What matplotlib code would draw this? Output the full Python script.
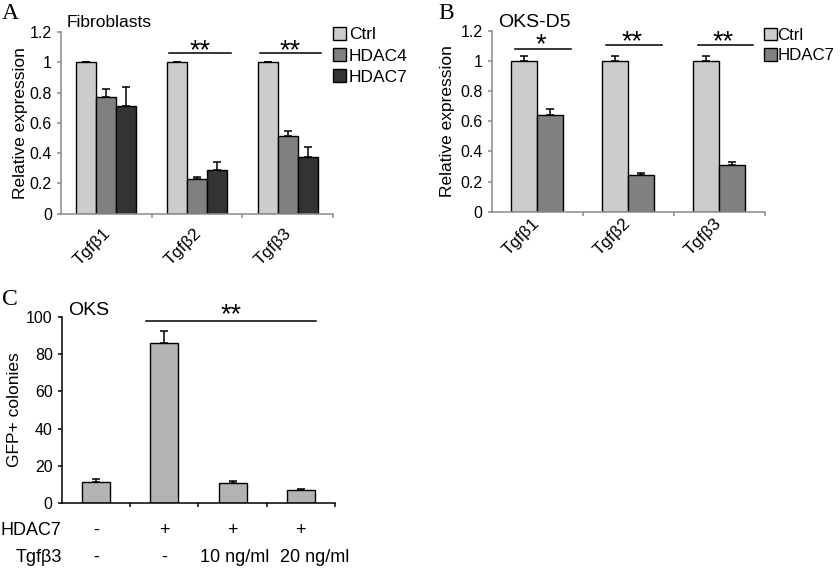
import matplotlib
matplotlib.use('Agg')
import matplotlib.pyplot as plt
import numpy as np
from matplotlib import transforms
from matplotlib.ticker import FuncFormatter
from matplotlib.textpath import TextPath
from matplotlib.font_manager import FontProperties

plt.rcParams['font.family'] = ['Liberation Sans', 'DejaVu Sans']

# ---------------- data ----------------
genes = ['Tgfβ1', 'Tgfβ2', 'Tgfβ3']

a_series = ['Ctrl', 'HDAC4', 'HDAC7']
a_ctrl = [1.0, 1.0, 1.0]
a_ctrl_err = [0.003, 0.003, 0.003]
a_hdac4 = [0.773, 0.227, 0.513]
a_hdac4_err = [0.05, 0.015, 0.035]
a_hdac7 = [0.711, 0.289, 0.375]
a_hdac7_err = [0.124, 0.05, 0.068]
a_sig = ['', '**', '**']

b_series = ['Ctrl', 'HDAC7']
b_ctrl = [1.0, 1.0, 1.0]
b_ctrl_err = [0.037, 0.035, 0.037]
b_hdac7 = [0.642, 0.244, 0.31]
b_hdac7_err = [0.04, 0.012, 0.02]
b_sig = ['*', '**', '**']

c_values = [11.6, 85.7, 10.7, 7.0]
c_err = [1.4, 6.8, 1.2, 0.9]
c_hdac7 = ['-', '+', '+', '+']
c_tgfb3 = ['-', '-', '10 ng/ml', '20 ng/ml']
c_sig = '**'

W, H = 840, 572
DPI = 100
fig = plt.figure(figsize=(W / DPI, H / DPI), dpi=DPI)

# asterisk glyph geometry (em units) so stars can be centred on a point
_fp = FontProperties(family='Liberation Sans')
_ext = TextPath((0, 0), '*', size=1, prop=_fp).get_extents()
STAR_CENTER_EM = (_ext.y0 + _ext.y1) / 2
STAR_GLYPH_PX = 9.5
STAR_FS = STAR_GLYPH_PX / _ext.height * 72 / DPI


def star_text(ax, x, yc, s):
    off = transforms.ScaledTranslation(0, -STAR_CENTER_EM * STAR_FS / 72,
                                       fig.dpi_scale_trans)
    ax.text(x, yc, s, transform=ax.transData + off, ha='center', va='baseline',
            fontsize=STAR_FS)


def px_axes(x0, y0, x1, y1):
    return fig.add_axes([x0 / W, 1 - y1 / H, (x1 - x0) / W, (y1 - y0) / H])


def fig_text(x, y, s, **kw):
    fig.text(x / W, 1 - y / H, s, **kw)


def style(ax, color, lw):
    for s in ['top', 'right']:
        ax.spines[s].set_visible(False)
    for s in ['left', 'bottom']:
        ax.spines[s].set_color(color)
        ax.spines[s].set_linewidth(lw)
    ax.tick_params(axis='y', direction='out', length=3, width=lw, color=color,
                   labelsize=11.5, pad=3.5, labelcolor='black')
    ax.tick_params(axis='x', which='major', direction='out', length=3, width=lw,
                   color=color, labelbottom=False)
    ax.yaxis.set_major_formatter(FuncFormatter(lambda v, p: f'{v:g}'))


def rotated_labels(ax, labels, pad, dx_px):
    n = len(labels)
    ax.set_xticks(np.arange(n) + 0.5, minor=True)
    ax.set_xticklabels(labels, minor=True, rotation=45, ha='right', va='top',
                       fontsize=12.5)
    ax.tick_params(axis='x', which='minor', length=0, pad=pad)
    off = transforms.ScaledTranslation(dx_px / DPI, 0, fig.dpi_scale_trans)
    for lab in ax.get_xticklabels(minor=True):
        lab.set_transform(lab.get_transform() + off)


grey_sp = '#8a8a8a'

# ---------------- Panel A ----------------
axA = px_axes(61, 32, 333, 213.7)
style(axA, grey_sp, 1.1)
xA = np.arange(len(genes)) + 0.5
wA = 0.22
colsA = ['#cccccc', '#808080', '#333333']
handlesA = []
for k, (vals, errs) in enumerate([(a_ctrl, a_ctrl_err), (a_hdac4, a_hdac4_err),
                                  (a_hdac7, a_hdac7_err)]):
    xs = xA + (k - 1) * wA
    b = axA.bar(xs, vals, wA, color=colsA[k], edgecolor='black', linewidth=1.0,
                label=a_series[k], zorder=2)
    axA.errorbar(xs, vals, yerr=[np.zeros(len(vals)), errs], fmt='none',
                 ecolor='black', elinewidth=1.1, capsize=3, capthick=1.1, zorder=3)
    handlesA.append(b)
axA.set_xlim(0, 3)
axA.set_ylim(0, 1.2)
axA.set_yticks(np.arange(0, 1.21, 0.2))
axA.set_xticks([1, 2, 3])
rotated_labels(axA, genes, 8.5, 7)
axA.set_ylabel('Relative expression', fontsize=12.5)
axA.yaxis.set_label_coords(-0.121, 0.5)
for i, s in enumerate(a_sig):
    if s:
        axA.plot([i + 0.19, i + 0.87], [1.06, 1.06], color='black', lw=1.1,
                 clip_on=False)
        star_text(axA, i + 0.53, 1.118, s)
axA.legend(handles=handlesA, loc='upper left', bbox_to_anchor=(333 / W, 1 - 27 / H),
           bbox_transform=fig.transFigure, frameon=False, fontsize=12.5,
           handlelength=0.75, handleheight=0.75, handletextpad=0.15,
           labelspacing=0.33, borderpad=0, borderaxespad=0)

fig_text(2, 19, 'A', fontsize=17, family='Liberation Serif', va='baseline')
fig_text(67, 27, 'Fibroblasts', fontsize=12.5, va='baseline')

# ---------------- Panel B ----------------
axB = px_axes(491.7, 31, 765, 211.7)
style(axB, grey_sp, 1.1)
xB = np.arange(len(genes)) + 0.5
wB = 0.285
colsB = ['#cccccc', '#808080']
handlesB = []
for k, (vals, errs) in enumerate([(b_ctrl, b_ctrl_err), (b_hdac7, b_hdac7_err)]):
    xs = xB + (k - 0.5) * wB
    b = axB.bar(xs, vals, wB, color=colsB[k], edgecolor='black', linewidth=1.0,
                label=b_series[k], zorder=2)
    axB.errorbar(xs, vals, yerr=[np.zeros(len(vals)), errs], fmt='none',
                 ecolor='black', elinewidth=1.1, capsize=3, capthick=1.1, zorder=3)
    handlesB.append(b)
axB.set_xlim(0, 3)
axB.set_ylim(0, 1.2)
axB.set_yticks(np.arange(0, 1.21, 0.2))
axB.set_xticks([1, 2, 3])
rotated_labels(axB, genes, 3, 5)
axB.set_ylabel('Relative expression', fontsize=12.5)
axB.yaxis.set_label_coords(-0.134, 0.5)
for i, s in enumerate(b_sig):
    ly = 1.078 if len(s) == 1 else 1.107
    sy = 1.153 if len(s) == 1 else 1.173
    axB.plot([i + 0.26, i + 0.87], [ly, ly], color='black', lw=1.1, clip_on=False)
    star_text(axB, i + 0.54, sy, s)
axB.legend(handles=handlesB, loc='upper left', bbox_to_anchor=(764 / W, 1 - 28 / H),
           bbox_transform=fig.transFigure, frameon=False, fontsize=12.2,
           handlelength=0.75, handleheight=0.75, handletextpad=0.05,
           labelspacing=0.3, borderpad=0, borderaxespad=0)

fig_text(438, 19, 'B', fontsize=17, family='Liberation Serif', va='baseline')
fig_text(498, 26.7, 'OKS-D5', fontsize=14, va='baseline')

# ---------------- Panel C ----------------
axC = px_axes(61.7, 316.7, 335, 503.3)
style(axC, 'black', 1.1)
xC = np.arange(len(c_values)) + 0.5
axC.bar(xC, c_values, 0.41, color='#b3b3b3', edgecolor='black', linewidth=1.0,
        zorder=2)
axC.errorbar(xC, c_values, yerr=[np.zeros(len(c_values)), c_err], fmt='none',
             ecolor='black', elinewidth=1.1, capsize=3, capthick=1.1, zorder=3)
axC.set_xlim(0, 4)
axC.set_ylim(0, 100)
axC.set_yticks(np.arange(0, 101, 20))
axC.set_xticks([1, 2, 3, 4])
axC.set_ylabel('GFP+ colonies', fontsize=12.5)
axC.yaxis.set_label_coords(-0.146, 0.5)
axC.plot([1.24, 3.72], [97.7, 97.7], color='black', lw=1.1, clip_on=False)
star_text(axC, 2.48, 104.7, c_sig)

tr = transforms.blended_transform_factory(axC.transData, fig.transFigure)
trl = transforms.blended_transform_factory(axC.transAxes, fig.transFigure)
yH = 1 - 535 / H
yT = 1 - 562 / H
tab_fs = 13
axC.text(0.0, yH, 'HDAC7', transform=trl, ha='right', va='baseline', fontsize=tab_fs)
axC.text(0.0, yT, 'Tgfβ3', transform=trl, ha='right', va='baseline', fontsize=tab_fs)
shift_px = [0, 0, 2, 14]
for i in range(len(c_values)):
    axC.text(xC[i], yH, c_hdac7[i], transform=tr, ha='center', va='baseline',
             fontsize=tab_fs)
    off = transforms.ScaledTranslation(shift_px[i] / DPI, 0, fig.dpi_scale_trans)
    axC.text(xC[i], yT, c_tgfb3[i], transform=tr + off, ha='center', va='baseline',
             fontsize=tab_fs)

fig_text(2, 305, 'C', fontsize=17, family='Liberation Serif', va='baseline')
fig_text(68, 315, 'OKS', fontsize=14, va='baseline')

fig.savefig('out.png', dpi=DPI)
